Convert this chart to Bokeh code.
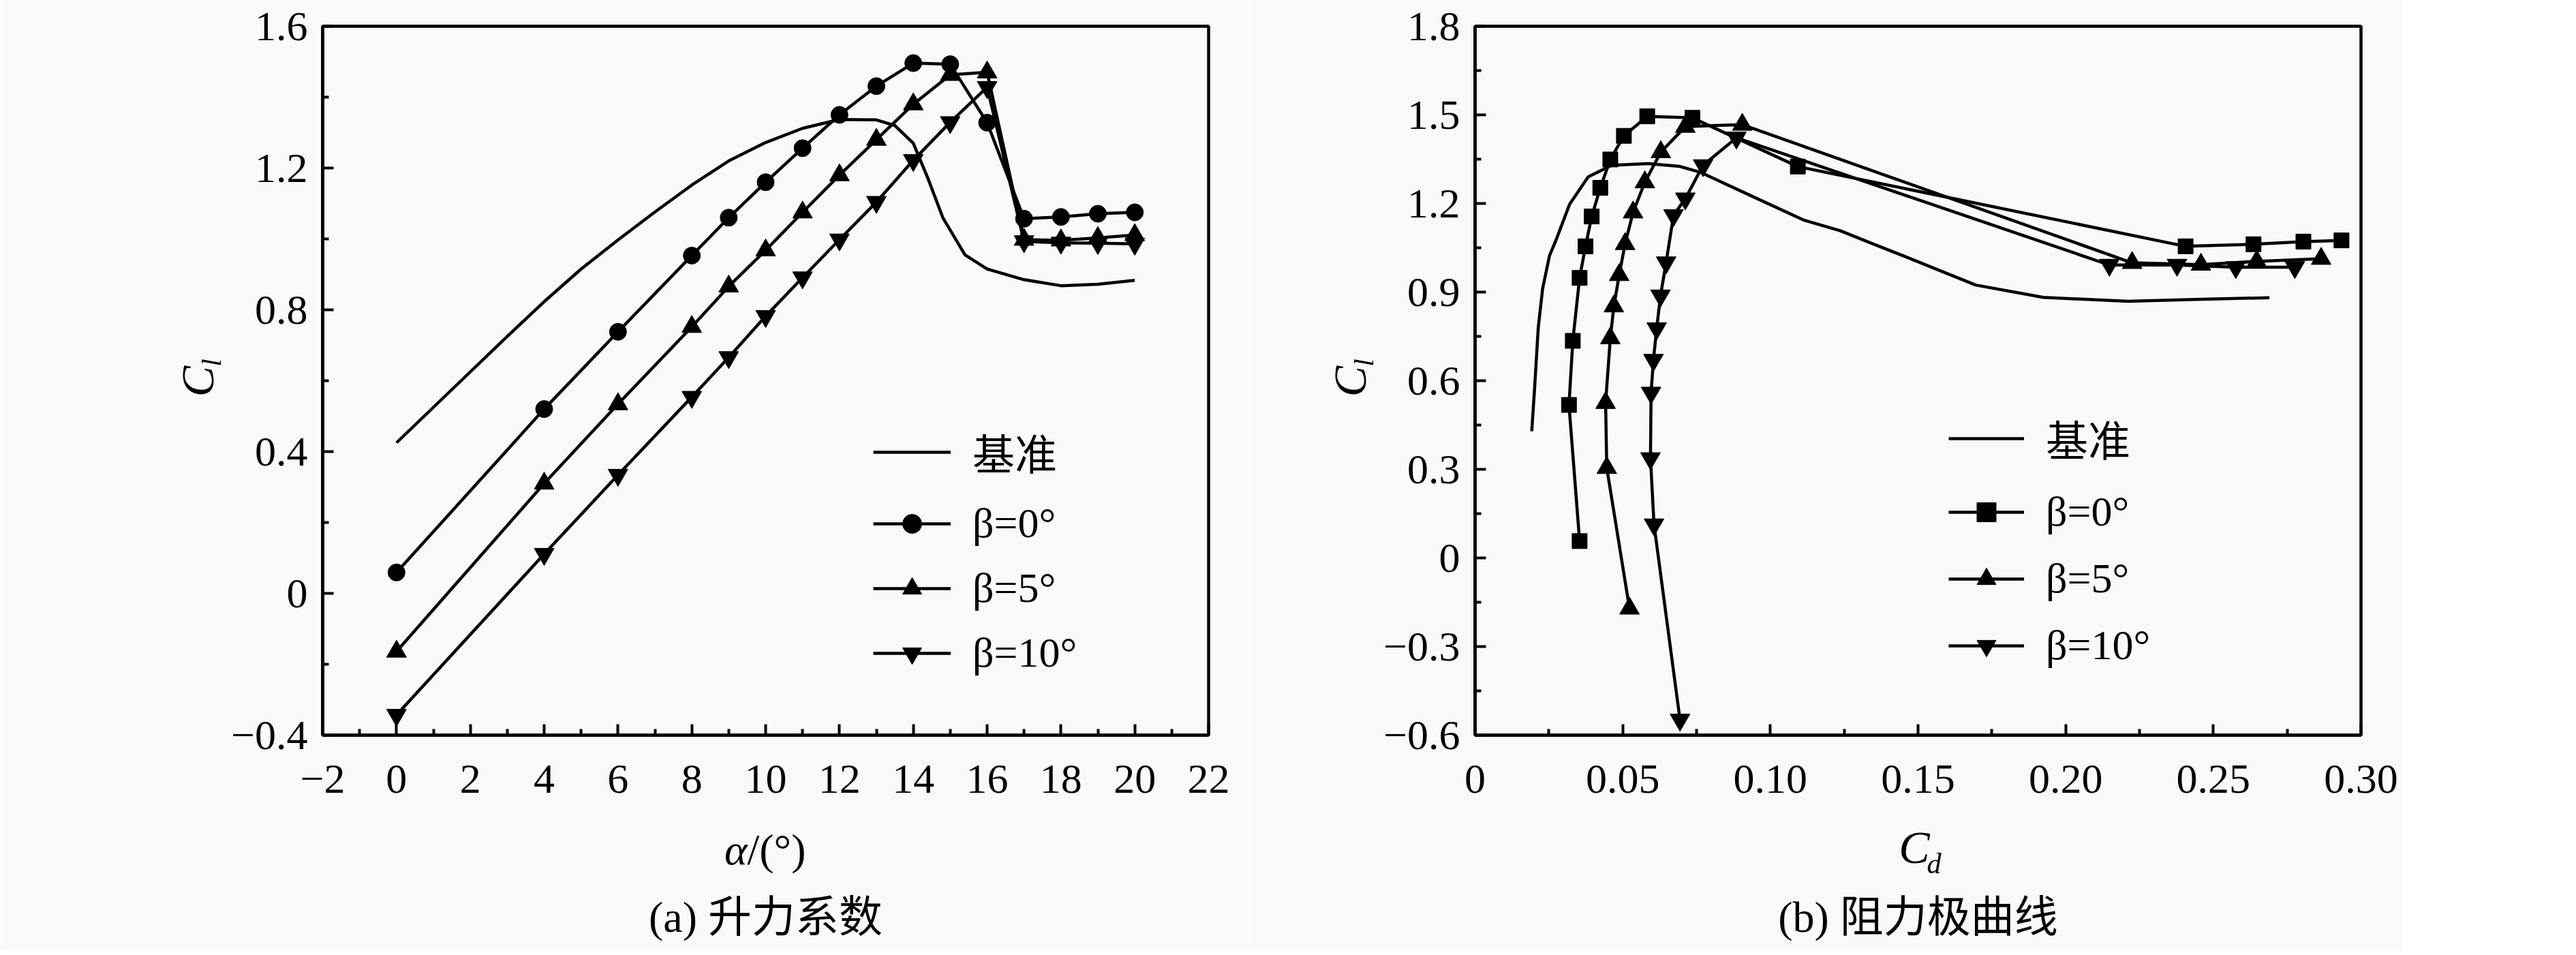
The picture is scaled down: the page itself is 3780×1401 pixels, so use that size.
from math import pi
from bokeh.plotting import figure
from bokeh.models import FixedTicker, Label, Legend, LegendItem, Range1d
from bokeh.layouts import row
from bokeh.embed import file_html
from bokeh.resources import INLINE

# ---------------- data ----------------
alpha = [0, 4, 6, 8, 9, 10, 11, 12, 13, 14, 15, 16, 17, 18, 19, 20]

# (a) lift coefficient vs angle of attack
alpha_base = [0, 1, 2, 3, 4, 5, 6, 7, 8, 9, 10, 11, 12, 13, 13.5, 14, 14.4, 14.8, 15.4, 16, 17, 18, 19, 20]
cl_base = [0.425, 0.525, 0.625, 0.725, 0.823, 0.915, 0.997, 1.076, 1.152, 1.22, 1.272, 1.312,
           1.337, 1.336, 1.32, 1.27, 1.17, 1.06, 0.955, 0.915, 0.885, 0.868, 0.872, 0.883]
cl_b0 = [0.059, 0.52, 0.738, 0.953, 1.06, 1.16, 1.256, 1.35, 1.431, 1.496, 1.493, 1.328, 1.057, 1.062, 1.071, 1.075]
cl_b5 = [-0.164, 0.31, 0.534, 0.752, 0.866, 0.968, 1.075, 1.18, 1.28, 1.38, 1.463, 1.47, 0.998, 0.996, 1.003, 1.011]
cl_b10 = [-0.343, 0.111, 0.334, 0.554, 0.666, 0.782, 0.891, 0.998, 1.104, 1.222, 1.329, 1.428, 0.993, 0.989, 0.988, 0.986]

# (b) drag polar
cd_base = [0.0192, 0.0202, 0.0214, 0.0229, 0.0252, 0.0275, 0.0320, 0.0383, 0.0462, 0.0586, 0.0691,
           0.0762, 0.0939, 0.1115, 0.1236, 0.1351, 0.1465, 0.1695, 0.1924, 0.2211, 0.2440, 0.269]
clp_base = [0.429, 0.581, 0.78, 0.913, 1.023, 1.078, 1.197, 1.290, 1.329, 1.335, 1.326,
            1.306, 1.224, 1.143, 1.108, 1.062, 1.017, 0.924, 0.882, 0.869, 0.875, 0.881]
cd_b0 = [0.0354, 0.0318, 0.0331, 0.0354, 0.0374, 0.0395, 0.0424, 0.0458, 0.0504, 0.0583, 0.0736, 0.1093, 0.2406, 0.2636, 0.2805, 0.2934]
clp_b0 = [0.057, 0.518, 0.735, 0.948, 1.055, 1.156, 1.253, 1.349, 1.429, 1.495, 1.49, 1.325, 1.055, 1.062, 1.071, 1.075]
cd_b5 = [0.0523, 0.0446, 0.0442, 0.0458, 0.047, 0.0488, 0.0508, 0.0535, 0.0575, 0.0629, 0.0712, 0.0905, 0.2225, 0.2458, 0.2647, 0.2865]
clp_b5 = [-0.171, 0.305, 0.525, 0.744, 0.852, 0.958, 1.063, 1.17, 1.272, 1.374, 1.46, 1.467, 0.999, 0.993, 1.004, 1.013]
cd_b10 = [0.0694, 0.0606, 0.0594, 0.0596, 0.0604, 0.0615, 0.0628, 0.0647, 0.0672, 0.0712, 0.0772, 0.0885, 0.2148, 0.2377, 0.2576, 0.2776]
clp_b10 = [-0.548, 0.113, 0.337, 0.559, 0.67, 0.777, 0.888, 1.0, 1.16, 1.2165, 1.329, 1.4225, 0.992, 0.992, 0.984, 0.984]

labels_series = ["基准", "β=0°", "β=5°", "β=10°"]

xa_ticks = [-2, 0, 2, 4, 6, 8, 10, 12, 14, 16, 18, 20, 22]
xa_minor = [-1, 1, 3, 5, 7, 9, 11, 13, 15, 17, 19, 21]
xa_labels = ["−2", "0", "2", "4", "6", "8", "10", "12", "14", "16", "18", "20", "22"]
ya_ticks = [-0.4, 0, 0.4, 0.8, 1.2, 1.6]
ya_minor = [-0.2, 0.2, 0.6, 1.0, 1.4]
ya_labels = ["−0.4", "0", "0.4", "0.8", "1.2", "1.6"]

xb_ticks = [0, 0.05, 0.1, 0.15, 0.2, 0.25, 0.3]
xb_minor = [0.025, 0.075, 0.125, 0.175, 0.225, 0.275]
xb_labels = ["0", "0.05", "0.10", "0.15", "0.20", "0.25", "0.30"]
yb_ticks = [-0.6, -0.3, 0, 0.3, 0.6, 0.9, 1.2, 1.5, 1.8]
yb_minor = [-0.45, -0.15, 0.15, 0.45, 0.75, 1.05, 1.35, 1.65]
yb_labels = ["−0.6", "−0.3", "0", "0.3", "0.6", "0.9", "1.2", "1.5", "1.8"]

# ---------------- styling ----------------
SERIF = "Liberation Serif"
MIXED = "Liberation Serif, Noto Sans CJK SC"
BG = "#f9f9f9"
INK = "black"
LW = 4.5


def make_fig(xr, yr, left, right):
    p = figure(x_range=Range1d(*xr), y_range=Range1d(*yr),
               frame_width=1300, frame_height=1040,
               min_border_left=left, min_border_right=right,
               min_border_top=38, min_border_bottom=315,
               output_backend="svg", toolbar_location=None,
               background_fill_color=BG, border_fill_color=BG)
    p.grid.visible = False
    p.outline_line_color = INK
    p.outline_line_width = 4.5
    for ax in (p.xaxis[0], p.yaxis[0]):
        ax.axis_line_width = 4.5
        ax.axis_line_color = INK
        ax.major_tick_in = 16
        ax.major_tick_out = 0
        ax.minor_tick_in = 9
        ax.minor_tick_out = 0
        ax.major_tick_line_width = 4
        ax.minor_tick_line_width = 4
        ax.major_tick_line_color = INK
        ax.minor_tick_line_color = INK
        ax.major_label_text_font = SERIF
        ax.major_label_text_font_size = "62px"
        ax.major_label_text_color = INK
    p.xaxis[0].major_label_standoff = 44
    p.yaxis[0].major_label_standoff = 22
    return p


def set_ticks(ax, ticks, minor, labels):
    ax.ticker = FixedTicker(ticks=ticks, minor_ticks=minor)
    ax.major_label_overrides = {t: s for t, s in zip(ticks, labels)}


def lab(p, side, x, y, text, size, dx=0, dy=0, align="center",
        style="normal", angle=0, font=SERIF):
    # labels live in a side panel so that they are not clipped to the frame
    p.add_layout(Label(x=x, y=y, x_offset=dx, y_offset=dy, text=text, text_font=font,
                       text_font_size=size, text_font_style=style, text_align=align,
                       text_baseline="middle", angle=angle, text_color=INK), side)


def series(p, xs, ys, marker, size):
    l = p.line(xs, ys, line_color=INK, line_width=LW, line_join="round")
    s = p.scatter(xs, ys, marker=marker, size=size, fill_color=INK, line_color=INK)
    return [l, s]


def legend(p, items, loc, gw, gh, spacing):
    lg = Legend(items=items, location=loc, glyph_width=gw, glyph_height=gh,
                label_height=gh, spacing=spacing, label_standoff=32, padding=0, margin=0,
                border_line_alpha=0, background_fill_alpha=0,
                label_text_font=MIXED, label_text_font_size="62px", label_text_color=INK)
    p.add_layout(lg)


# ---------------- (a) ----------------
pa = make_fig((-2, 22), (-0.4, 1.6), 473, 60)
set_ticks(pa.xaxis[0], xa_ticks, xa_minor, xa_labels)
set_ticks(pa.yaxis[0], ya_ticks, ya_minor, ya_labels)
rb = pa.line(alpha_base, cl_base, line_color=INK, line_width=LW)
r0 = series(pa, alpha, cl_b0, "circle", 25)
r5 = series(pa, alpha, cl_b5, "triangle", 29)
r10 = series(pa, alpha, cl_b10, "inverted_triangle", 29)
legend(pa, [LegendItem(label=labels_series[0], renderers=[rb]),
            LegendItem(label=labels_series[1], renderers=r0),
            LegendItem(label=labels_series[2], renderers=r5),
            LegendItem(label=labels_series[3], renderers=r10)],
       (808, 85), 114, 70, 24)

lab(pa, "left", -2, 0.6, "C", "68px", dx=-184, dy=-1, style="italic", angle=pi / 2)
lab(pa, "left", -2, 0.6, "l", "40px", dx=-163, dy=21, align="left", style="italic", angle=pi / 2)
lab(pa, "below", 10, -0.4, "α", "64px", dx=-27, dy=-168, align="right", style="italic")
lab(pa, "left", 10, -0.4, "/(°)", "64px", dx=-27, dy=-168, align="left")
lab(pa, "below", 10, -0.4, "(a) 升力系数", "64px", dy=-267, font=MIXED)

# ---------------- (b) ----------------
pb = make_fig((0, 0.30), (-0.6, 1.8), 331, 60)
set_ticks(pb.xaxis[0], xb_ticks, xb_minor, xb_labels)
set_ticks(pb.yaxis[0], yb_ticks, yb_minor, yb_labels)
qb = pb.line(cd_base, clp_base, line_color=INK, line_width=LW)
q0 = series(pb, cd_b0, clp_b0, "square", 22)
q5 = series(pb, cd_b5, clp_b5, "triangle", 29)
q10 = series(pb, cd_b10, clp_b10, "inverted_triangle", 29)
legend(pb, [LegendItem(label=labels_series[0], renderers=[qb]),
            LegendItem(label=labels_series[1], renderers=q0),
            LegendItem(label=labels_series[2], renderers=q5),
            LegendItem(label=labels_series[3], renderers=q10)],
       (695, 96), 111, 70, 27)

lab(pb, "left", 0, 0.6, "C", "68px", dx=-184, dy=-1, style="italic", angle=pi / 2)
lab(pb, "left", 0, 0.6, "l", "40px", dx=-163, dy=21, align="left", style="italic", angle=pi / 2)
lab(pb, "below", 0.15, -0.6, "C", "68px", dx=17, dy=-164, align="right", style="italic")
lab(pb, "right", 0.15, -0.6, "d", "42px", dx=13, dy=-188, align="left", style="italic")
lab(pb, "below", 0.15, -0.6, "(b) 阻力极曲线", "64px", dy=-267, font=MIXED)

layout = row(pa, pb)
open("out.html", "w").write(file_html(layout, INLINE))
